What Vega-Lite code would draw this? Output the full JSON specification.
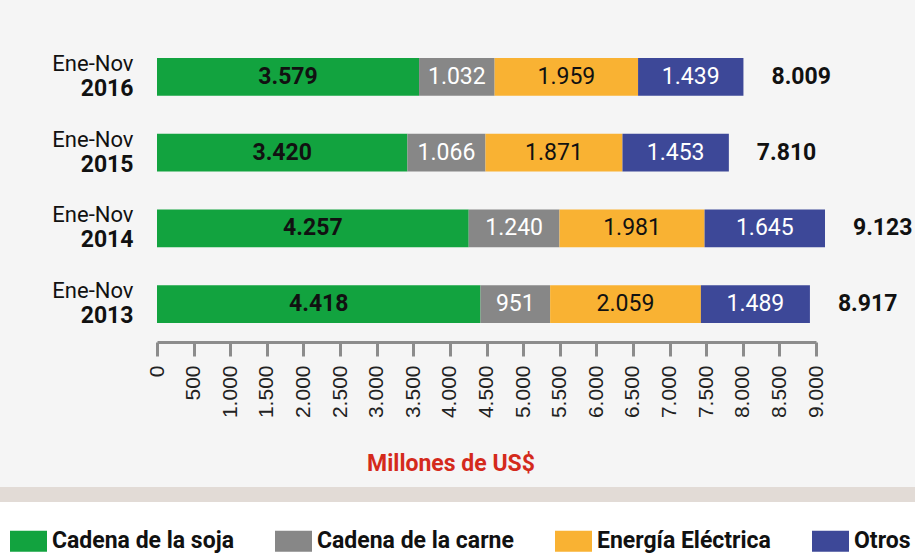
{
  "$schema": "https://vega.github.io/schema/vega-lite/v6.json",
  "autosize": {"type": "none"},
  "width": 659,
  "height": 303,
  "padding": {"left": 157, "top": 39, "right": 99, "bottom": 214},
  "background": "#f5f5f5",
  "config": {
    "locale": {"number": {"decimal": ",", "thousands": ".", "grouping": [3], "currency": ["", " US$"]}},
    "view": {"stroke": null},
    "font": "Roboto",
    "legend": {"strokeWidth": 15},
    "axisX": {
      "grid": false,
      "domainColor": "#8c8c8c", "domainWidth": 3, "tickColor": "#8c8c8c", "tickWidth": 3, "tickSize": 14,
      "labelAngle": 270, "labelFont": "Liberation Sans", "labelFontSize": 21, "labelColor": "#222", "labelPadding": 9,
      "labelOverlap": false, "labelFlush": false,
      "titleFont": "Roboto", "titleFontSize": 23, "titleFontWeight": "bold", "titleColor": "#d42a1c",
      "titleX": 293.5, "titleY": 128.5, "titleAlign": "center", "titleBaseline": "alphabetic"
    }
  },
  "data": {
    "values": [
      {"periodo": "2016", "serie": "Cadena de la soja", "orden": 1, "valor": 3579},
      {"periodo": "2016", "serie": "Cadena de la carne", "orden": 2, "valor": 1032},
      {"periodo": "2016", "serie": "Energía Eléctrica", "orden": 3, "valor": 1959},
      {"periodo": "2016", "serie": "Otros", "orden": 4, "valor": 1439},
      {"periodo": "2015", "serie": "Cadena de la soja", "orden": 1, "valor": 3420},
      {"periodo": "2015", "serie": "Cadena de la carne", "orden": 2, "valor": 1066},
      {"periodo": "2015", "serie": "Energía Eléctrica", "orden": 3, "valor": 1871},
      {"periodo": "2015", "serie": "Otros", "orden": 4, "valor": 1453},
      {"periodo": "2014", "serie": "Cadena de la soja", "orden": 1, "valor": 4257},
      {"periodo": "2014", "serie": "Cadena de la carne", "orden": 2, "valor": 1240},
      {"periodo": "2014", "serie": "Energía Eléctrica", "orden": 3, "valor": 1981},
      {"periodo": "2014", "serie": "Otros", "orden": 4, "valor": 1645},
      {"periodo": "2013", "serie": "Cadena de la soja", "orden": 1, "valor": 4418},
      {"periodo": "2013", "serie": "Cadena de la carne", "orden": 2, "valor": 951},
      {"periodo": "2013", "serie": "Energía Eléctrica", "orden": 3, "valor": 2059},
      {"periodo": "2013", "serie": "Otros", "orden": 4, "valor": 1489}
    ]
  },
  "layer": [
    {
      "mark": {"type": "bar"},
      "encoding": {
        "y": {
          "field": "periodo", "type": "nominal", "sort": ["2016", "2015", "2014", "2013"],
          "scale": {"paddingInner": 0.5, "paddingOuter": 0.25},
          "axis": {"orient": "left", "title": null, "labelExpr": "'Ene-Nov'", "labelOffset": -13, "labelFont": "Roboto", "labelFontSize": 22, "labelColor": "#111", "labelPadding": 24, "ticks": false, "domain": false, "labelBaseline": "middle"}
        },
        "x": {
          "field": "valor", "type": "quantitative", "stack": "zero",
          "scale": {"domain": [0, 9000], "nice": false, "zero": true},
          "axis": {"values": [0, 500, 1000, 1500, 2000, 2500, 3000, 3500, 4000, 4500, 5000, 5500, 6000, 6500, 7000, 7500, 8000, 8500, 9000], "format": ",d", "title": "Millones de US$"}
        },
        "color": {
          "field": "serie", "type": "nominal",
          "scale": {"domain": ["Cadena de la soja", "Cadena de la carne", "Energía Eléctrica", "Otros"], "range": ["#12a33f", "#878787", "#f9b233", "#3d4898"]},
          "legend": {
            "orient": "none", "legendX": -165, "legendY": 455.5, "direction": "horizontal", "columns": 4,
            "title": " ", "titleFontSize": 10, "titlePadding": 0,
            "labelFont": "Roboto", "labelFontSize": 23, "labelFontWeight": "bold", "labelColor": "#111", "labelLimit": 400,
            "symbolType": "M-1,-0.57H1V0.57H-1Z", "symbolSize": 1369, "symbolStrokeWidth": 0, "symbolOpacity": 1,
            "labelOffset": 5, "columnPadding": 41,
            "fillColor": "white", "strokeColor": "#e2dbd6", "padding": 18
          }
        },
        "order": {"field": "orden", "type": "quantitative"}
      }
    },
    {
      "mark": {"type": "text", "font": "Roboto", "fontSize": 23, "fontWeight": "bold", "align": "center", "baseline": "middle"},
      "encoding": {
        "y": {"field": "periodo", "type": "nominal", "sort": ["2016", "2015", "2014", "2013"], "axis": null},
        "x": {
          "field": "valor", "type": "quantitative", "stack": "zero", "bandPosition": 0.5,
          "scale": {"domain": [0, 9000], "nice": false, "zero": true},
          "axis": {"values": [0, 500, 1000, 1500, 2000, 2500, 3000, 3500, 4000, 4500, 5000, 5500, 6000, 6500, 7000, 7500, 8000, 8500, 9000], "format": ",d", "title": "Millones de US$"}
        },
        "detail": {"field": "serie"},
        "order": {"field": "orden", "type": "quantitative"},
        "text": {"condition": {"test": "datum.serie === 'Cadena de la soja'", "field": "valor", "type": "quantitative", "format": ",d"}, "value": ""},
        "color": {"value": "#111"}
      }
    },
    {
      "mark": {"type": "text", "font": "Roboto", "fontSize": 23, "fontWeight": "normal", "align": "center", "baseline": "middle"},
      "encoding": {
        "y": {"field": "periodo", "type": "nominal", "sort": ["2016", "2015", "2014", "2013"], "axis": null},
        "x": {
          "field": "valor", "type": "quantitative", "stack": "zero", "bandPosition": 0.5,
          "scale": {"domain": [0, 9000], "nice": false, "zero": true},
          "axis": {"values": [0, 500, 1000, 1500, 2000, 2500, 3000, 3500, 4000, 4500, 5000, 5500, 6000, 6500, 7000, 7500, 8000, 8500, 9000], "format": ",d", "title": "Millones de US$"}
        },
        "detail": {"field": "serie"},
        "order": {"field": "orden", "type": "quantitative"},
        "text": {"condition": {"test": "datum.serie !== 'Cadena de la soja'", "field": "valor", "type": "quantitative", "format": ",d"}, "value": ""},
        "color": {"condition": {"test": "datum.serie === 'Cadena de la carne' || datum.serie === 'Otros'", "value": "white"}, "value": "#111"}
      }
    },
    {
      "mark": {"type": "text", "font": "Roboto", "fontSize": 23, "fontWeight": "bold", "align": "left", "baseline": "middle", "dx": 28, "color": "#111"},
      "encoding": {
        "y": {
          "field": "periodo", "type": "nominal", "sort": ["2016", "2015", "2014", "2013"],
          "axis": {"orient": "left", "title": null, "labelOffset": 12, "labelFont": "Roboto", "labelFontSize": 23, "labelFontWeight": "bold", "labelColor": "#111", "labelPadding": 24, "ticks": false, "domain": false, "labelBaseline": "middle"}
        },
        "x": {
          "aggregate": "sum", "field": "valor", "type": "quantitative",
          "scale": {"domain": [0, 9000], "nice": false, "zero": true},
          "axis": {"values": [0, 500, 1000, 1500, 2000, 2500, 3000, 3500, 4000, 4500, 5000, 5500, 6000, 6500, 7000, 7500, 8000, 8500, 9000], "format": ",d", "title": "Millones de US$"}
        },
        "text": {"aggregate": "sum", "field": "valor", "type": "quantitative", "format": ",d"}
      }
    }
  ],
  "resolve": {"axis": {"y": "independent"}}
}
